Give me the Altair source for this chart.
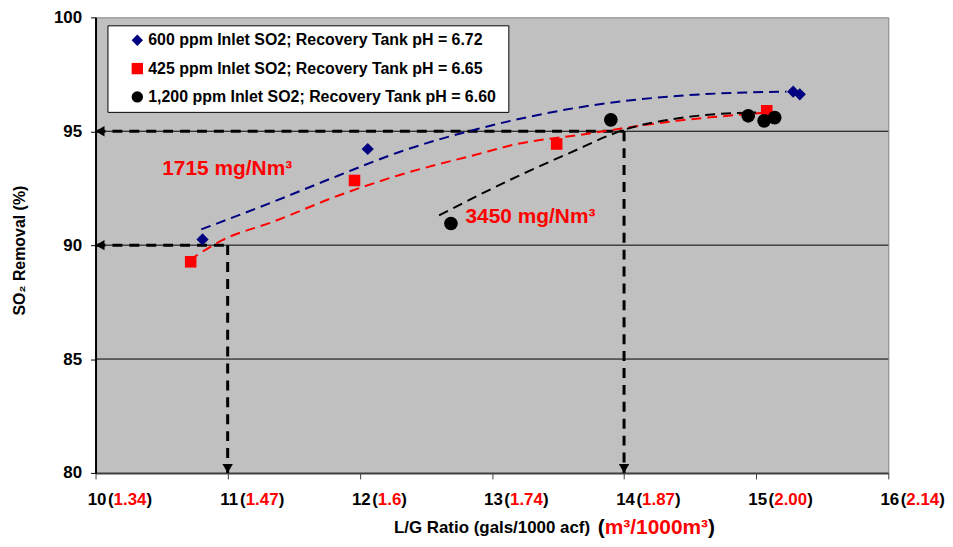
import altair as alt
import pandas as pd

# ---------------- data ----------------
series = [
    "600 ppm Inlet SO2; Recovery  Tank pH = 6.72",
    "425 ppm Inlet SO2; Recovery  Tank pH = 6.65",
    "1,200 ppm Inlet SO2; Recovery  Tank pH = 6.60",
]
series_colors = ["#000080", "#FF0000", "#000000"]
series_shapes = ["diamond", "square", "circle"]
series_sizes = [150, 135, 190]

blue_x = [10.81, 12.06, 15.28, 15.33]
blue_y = [90.25, 94.22, 96.74, 96.62]
red_x = [10.72, 11.96, 13.49, 15.08]
red_y = [89.27, 92.84, 94.44, 95.90]
black_x = [12.69, 13.90, 14.94, 15.06, 15.14]
black_y = [90.95, 95.50, 95.68, 95.46, 95.60]

trend_blue_x = [10.80, 11.34, 11.84, 12.29, 12.89, 13.65, 14.40, 15.23]
trend_blue_y = [90.69, 91.89, 93.06, 94.07, 95.10, 96.04, 96.55, 96.74]
trend_red_x = [10.71, 10.96, 11.34, 11.84, 12.29, 12.87, 13.19, 13.65, 14.40, 15.08]
trend_red_y = [89.34, 90.22, 91.02, 92.18, 93.06, 93.96, 94.44, 94.83, 95.46, 95.82]
trend_black_x = [12.60, 13.19, 13.57, 14.02, 14.40, 14.77, 15.00]
trend_black_y = [91.31, 93.01, 94.00, 95.10, 95.56, 95.78, 95.82]

x_ticks = [10, 11, 12, 13, 14, 15, 16]
metric_ticks = ["1.34", "1.47", "1.6", "1.74", "1.87", "2.00", "2.14"]
y_ticks = [80, 85, 90, 95, 100]
grid_y = [85, 90, 95]
target_x = [11, 14]
target_y = [90, 95]
annot_text = ["1715 mg/Nm³", "3450 mg/Nm³"]
annot_x = [10.505, 12.80]
annot_y = [93.36, 91.24]
x_title_main = "L/G Ratio (gals/1000 acf)"
x_title_metric = "m³/1000m³"
y_title = "SO₂ Removal (%)"

# ---------------- tables ----------------
pts = pd.DataFrame({
    "series": [series[0]] * len(blue_x) + [series[1]] * len(red_x) + [series[2]] * len(black_x),
    "x": blue_x + red_x + black_x,
    "y": blue_y + red_y + black_y,
})
trend = pd.DataFrame({
    "tseries": [series[0]] * len(trend_blue_x) + [series[1]] * len(trend_red_x) + [series[2]] * len(trend_black_x),
    "x": trend_blue_x + trend_red_x + trend_black_x,
    "y": trend_blue_y + trend_red_y + trend_black_y,
})
grid_df = pd.DataFrame({"y": grid_y})
hdash = pd.DataFrame({"x0": [10] * len(target_x), "x1": target_x, "y": target_y})
vdash = pd.DataFrame({"x": target_x, "y0": target_y, "y1": [80] * len(target_x)})
left_arrows = pd.DataFrame({"x": [10] * len(target_y), "y": target_y})
down_arrows = pd.DataFrame({"x": target_x, "y": [80] * len(target_x)})
annot = pd.DataFrame({"x": annot_x, "y": annot_y, "t": annot_text})
metric = pd.DataFrame({"x": x_ticks, "m": metric_ticks})
xtitle = pd.DataFrame({"a": [x_title_main], "b": [x_title_metric]})

# ---------------- styling ----------------
FONT = "Liberation Sans"
W, H = 797, 458
PX_PER_UNIT = W / 6.0

xsc = alt.Scale(domain=[10, 16], nice=False, zero=False)
ysc = alt.Scale(domain=[80, 100], nice=False, zero=False)
xaxis = alt.Axis(values=x_ticks, format="d", title=None, grid=False, labelAngle=0,
                 labelFont=FONT, labelFontSize=17, labelFontWeight="bold", labelColor="black",
                 labelPadding=13, labelOffset=1.0, labelFlush=False, labelOverlap=False,
                 tickSize=6, tickColor="#404040",
                 domainColor="#404040", domainWidth=2)
yaxis = alt.Axis(values=y_ticks, title=y_title, grid=False,
                 labelFont=FONT, labelFontSize=17, labelFontWeight="bold", labelColor="black",
                 labelPadding=9, labelFlush=False, tickSize=5, tickColor="black",
                 domainColor="black", domainWidth=2,
                 titleFont=FONT, titleFontSize=16, titleFontWeight="bold", titleColor="black",
                 titleAngle=270, titleX=-76, titleY=234, titleAlign="center", titleBaseline="middle")


def X(f):
    return alt.X(f, type="quantitative", scale=xsc, axis=xaxis)


def Y(f):
    return alt.Y(f, type="quantitative", scale=ysc, axis=yaxis)


grid = alt.Chart(grid_df).mark_rule(color="black", strokeWidth=1).encode(y=Y("y"))

hrule = alt.Chart(hdash).mark_rule(color="black", strokeWidth=3, strokeDash=[10, 7]).encode(
    x=X("x0"), x2="x1", y=Y("y"))
vrule = alt.Chart(vdash).mark_rule(color="black", strokeWidth=3, strokeDash=[10, 7]).encode(
    x=X("x"), y=Y("y0"), y2="y1")

line_layers = []
for s, c in zip(series, series_colors):
    line_layers.append(
        alt.Chart(trend).transform_filter(alt.datum.tseries == s)
        .mark_line(color=c, strokeWidth=2, strokeDash=[10, 6], interpolate="monotone")
        .encode(x=X("x"), y=Y("y"))
    )

leg = alt.Legend(title=None, orient="none", legendX=12, legendY=8,
                 fillColor="white", strokeColor="black", padding=7,
                 labelFont=FONT, labelFontSize=16, labelFontWeight="bold", labelColor="black",
                 symbolSize=130, symbolOffset=15, labelOffset=3, rowPadding=12.5,
                 symbolStrokeWidth=0, labelLimit=600,
                 labelExpr="datum.label + '\u00a0\u00a0\u00a0\u00a0'")

color_enc = alt.Color("series:N", scale=alt.Scale(domain=series, range=series_colors), legend=leg)
shape_enc = alt.Shape("series:N", scale=alt.Scale(domain=series, range=series_shapes), legend=leg)

point_layers = []
for s, sz in zip(series, series_sizes):
    point_layers.append(
        alt.Chart(pts).transform_filter(alt.datum.series == s)
        .mark_point(filled=True, opacity=1, size=sz)
        .encode(x=X("x"), y=Y("y"), color=color_enc, shape=shape_enc)
    )

larrow = alt.Chart(left_arrows).mark_point(shape="triangle-left", filled=True, color="black",
                                            size=110, opacity=1, xOffset=4.5).encode(x=X("x"), y=Y("y"))
darrow = alt.Chart(down_arrows).mark_point(shape="triangle-down", filled=True, color="black",
                                            size=110, opacity=1, yOffset=-4.5).encode(x=X("x"), y=Y("y"))

annots = alt.Chart(annot).mark_text(align="left", baseline="middle", font=FONT, fontSize=21,
                                    fontWeight="bold", color="#FF0000").encode(
    x=X("x"), y=Y("y"), text="t:N")

# secondary (metric) tick labels: black "(" + red value + black ")"
LF = 17
open_dx = 12.5
num_dx = open_dx + 0.333 * LF
metric_open = alt.Chart(metric).transform_calculate(p="'('").mark_text(
    align="left", baseline="top", dx=open_dx, font=FONT, fontSize=LF, fontWeight="bold", color="black"
).encode(x=X("x"), y=alt.value(H + 19), text="p:N")
metric_red = alt.Chart(metric).mark_text(
    align="left", baseline="top", dx=num_dx, font=FONT, fontSize=LF, fontWeight="bold",
    color="#FF0000"
).encode(x=X("x"), y=alt.value(H + 19), text="m:N")
metric_close = alt.Chart(metric).transform_calculate(
    p="')'",
    xc=f"datum.x + ({num_dx} + ((length(datum.m) - 1) * 0.556 + 0.278) * {LF}) / {PX_PER_UNIT}",
).mark_text(
    align="left", baseline="top", font=FONT, fontSize=LF, fontWeight="bold", color="black"
).encode(x=X("xc"), y=alt.value(H + 19), text="p:N")

TY = H + 55
TF = 21
xt_main = alt.Chart(xtitle).mark_text(align="left", baseline="middle", font=FONT, fontSize=17,
                                      fontWeight="bold", color="black").encode(
    x=alt.value(300), y=alt.value(TY), text="a:N")
xt_open = alt.Chart(xtitle).transform_calculate(p="'('").mark_text(
    align="left", baseline="middle", font=FONT, fontSize=TF, fontWeight="bold", color="black").encode(
    x=alt.value(505), y=alt.value(TY), text="p:N")
xt_red = alt.Chart(xtitle).mark_text(align="left", baseline="middle", font=FONT, fontSize=TF,
                                     fontWeight="bold", color="#FF0000").encode(
    x=alt.value(505 + 0.333 * TF), y=alt.value(TY), text="b:N")
xt_close = alt.Chart(xtitle).transform_calculate(p="')'").mark_text(
    align="left", baseline="middle", font=FONT, fontSize=TF, fontWeight="bold", color="black").encode(
    x=alt.value(505 + (0.333 + 4.946) * TF), y=alt.value(TY), text="p:N")

chart = alt.layer(
    grid, hrule, vrule, *line_layers, *point_layers, larrow, darrow, annots,
    metric_open, metric_red, metric_close, xt_main, xt_open, xt_red, xt_close,
).properties(
    width=W, height=H,
    padding={"left": 88, "top": 8, "right": 57, "bottom": 66},
    autosize=alt.AutoSizeParams(type="none"),
    background="white",
).configure_view(fill="#C0C0C0", stroke="#808080", strokeWidth=1)

chart.save("out.html", embed_options={"renderer": "svg", "actions": False})
